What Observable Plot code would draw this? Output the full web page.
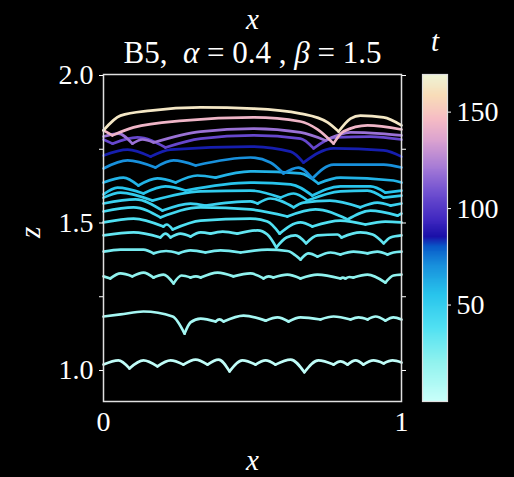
<!DOCTYPE html>
<html><head><meta charset="utf-8">
<script src="https://cdn.jsdelivr.net/npm/d3@7"></script>
<script src="https://cdn.jsdelivr.net/npm/@observablehq/plot@0.6"></script>
<style>
html,body{margin:0;padding:0;background:#000;}
#wrap{position:relative;width:514px;height:477px;background:#000;overflow:hidden;}
#wrap svg{position:absolute;top:0;}
</style></head><body><div id="wrap"></div>
<script>
// time of each interface (colour), bottom to top
const curveT = [3, 12, 20, 27, 33, 38, 43, 47, 51, 55, 60, 70, 84, 105, 118, 143, 163];
// interface points [x, z, cusp?]
const curveA = [[0,1.020],[.05,1.034],[.087,1.007,1],[.134,1.034],[.181,1.014,1],[.225,1.034],[.268,1.020,1],[.309,1.037],[.349,1.020,1],[.386,1.037],[.423,.997,1],[.466,1.034],[.51,1.020,1],[.544,1.034],[.577,1.020,1],[.628,1.037],[.674,.994,1],[.721,1.034],[.772,1.020,1],[.795,1.031],[.819,1.020,1],[.846,1.034],[.872,1.020,1],[.906,1.034],[.94,1.024,1],[.97,1.034],[1,1.027]];
const curveB = [[0,1.183],[.057,1.19],[.134,1.2],[.232,1.183],[.272,1.125,1],[.292,1.163],[.326,1.176],[.376,1.166,1],[.389,1.173],[.403,1.166,1],[.47,1.186],[.544,1.169,1],[.584,1.18],[.621,1.166,1],[.661,1.18],[.728,1.173,1],[.772,1.183],[.829,1.173,1],[.856,1.18],[.886,1.173,1],[.913,1.183],[.946,1.169,1],[.973,1.18],[1,1.173]];
const curveC = [[0,1.319],[.023,1.312,1],[.057,1.329],[.097,1.319,1],[.134,1.332],[.168,1.315,1],[.201,1.325],[.235,1.295,1],[.262,1.322],[.292,1.315,1],[.31,1.319],[.326,1.315,1],[.383,1.332],[.436,1.319,1],[.493,1.329],[.537,1.312,1],[.554,1.319],[.57,1.315,1],[.617,1.325],[.661,1.312,1],[.718,1.325],[.795,1.312,1],[.803,1.315],[.812,1.312,1],[.825,1.317],[.839,1.315,1],[.886,1.325],[.946,1.298,1],[.973,1.322],[1,1.325]];
const curveD = [[0,1.403],[.057,1.41],[.134,1.41],[.168,1.397,1],[.21,1.405],[.252,1.397,1],[.292,1.407],[.342,1.4,1],[.393,1.407],[.46,1.4,1],[.55,1.41],[.617,1.405],[.661,1.376,1],[.688,1.397],[.718,1.386,1],[.762,1.4],[.795,1.393,1],[.839,1.403],[.886,1.397,1],[.919,1.403],[.953,1.393,1],[.973,1.4],[1,1.403]];
const curveE = [[0,1.458],[.101,1.468],[.191,1.451,1],[.208,1.464],[.225,1.451,1],[.258,1.464],[.292,1.454,1],[.326,1.468],[.359,1.464,1],[.4,1.471],[.449,1.464,1],[.517,1.475],[.55,1.461],[.58,1.417,1],[.614,1.451],[.644,1.458],[.68,1.431,1],[.718,1.458],[.785,1.461],[.799,1.451,1],[.862,1.468],[.903,1.461],[.94,1.431,1],[.963,1.451],[1,1.458]];
const curveF = [[0,1.502],[.101,1.515],[.201,1.488,1],[.212,1.495],[.232,1.478,1],[.326,1.508],[.493,1.515],[.55,1.505],[.591,1.464,1],[.661,1.502],[.701,1.488,1],[.795,1.508],[.879,1.495,1],[.946,1.505],[1,1.502]];
const curveG = [[0,1.539],[.101,1.553],[.191,1.519,1],[.326,1.553],[.493,1.546],[.617,1.522,1],[.711,1.546],[.819,1.512,1],[.896,1.542],[.987,1.525,1],[1,1.532]];
const curveH = [[0,1.566],[.107,1.58],[.198,1.542,1],[.292,1.566],[.342,1.559,1],[.493,1.573],[.517,1.566,1],[.56,1.583],[.638,1.553,1],[.671,1.569],[.76,1.576],[.862,1.553,1],[.919,1.569],[.963,1.559,1],[1,1.566]];
const curveI = [[0,1.586],[.057,1.603],[.164,1.576,1],[.326,1.607],[.493,1.61],[.594,1.586,1],[.638,1.6],[.685,1.576,1],[.795,1.607],[.886,1.61],[.94,1.586,1],[1,1.593]];
const curveJ = [[0,1.597],[.047,1.62],[.134,1.6,1],[.208,1.624],[.275,1.61,1],[.493,1.637],[.628,1.631],[.701,1.593,1],[.795,1.624],[.896,1.624],[.946,1.603,1],[1,1.61]];
const curveK = [[0,1.637],[.067,1.654],[.117,1.627,1],[.181,1.651],[.242,1.637,1],[.315,1.661],[.376,1.654,1],[.493,1.675],[.661,1.668],[.721,1.634,1],[.795,1.654],[.973,1.644],[1,1.637]];
const curveL = [[0,1.685],[.081,1.712],[.174,1.688,1],[.235,1.712],[.309,1.695,1],[.493,1.722],[.56,1.705],[.604,1.668,1],[.654,1.688],[.701,1.651,1],[.772,1.698],[.94,1.698],[1,1.688]];
const curveM = [[0,1.729],[.081,1.749],[.158,1.725,1],[.225,1.749],[.493,1.759],[.628,1.742],[.671,1.705,1],[.772,1.753],[.94,1.746],[1,1.725]];
const curveN = [[0,1.783],[.03,1.769,1],[.114,1.79],[.208,1.756,1],[.326,1.786],[.503,1.797],[.661,1.786],[.705,1.753,1],[.779,1.79],[.896,1.793],[1,1.783]];
const curveO = [[0,1.793],[.05,1.803],[.097,1.769,1],[.131,1.783],[.168,1.773,1],[.326,1.81],[.503,1.82],[.661,1.807],[.745,1.78,1],[.829,1.807],[.93,1.803],[1,1.797]];
const curveP = [[0,1.814],[.03,1.797,1],[.101,1.824],[.268,1.847],[.503,1.858],[.661,1.844],[.718,1.817],[.772,1.769,1],[.805,1.81],[.886,1.831],[1,1.817]];
const curveQ = [[0,1.814],[.057,1.864],[.158,1.881],[.326,1.892],[.503,1.888],[.661,1.871],[.752,1.841],[.789,1.81,1],[.829,1.854],[.862,1.864],[.94,1.858],[1,1.831]];
const curves = [curveA, curveB, curveC, curveD, curveE, curveF, curveG, curveH, curveI, curveJ, curveK, curveL, curveM, curveN, curveO, curveP, curveQ];

// colour map stops (t -> colour)
const colorStopsT = [0, 20, 38, 55, 70, 80, 85, 94, 108, 120, 134, 146, 158, 170];
const colorStops = ["#c8fffa", "#90f2ee", "#50e0f2", "#28c4ec", "#1890dc", "#0858c8", "#1a10a8", "#4028c0", "#7050d0", "#a278d6", "#d8a0d0", "#f6bcc4", "#f8dcb8", "#eef6d8"];
const tDomain = [0, 169.5];

const zTicks = [1.0, 1.5, 2.0];
const zMinorTicks = [1.25, 1.75];
const xTicks = [0, 1];
const tTicks = [50, 100, 150];
const xLabel = "x";
const zLabel = "z";
const tLabel = "t";
const titleParts = [["B5,  ", false], ["α", true], [" = 0.4 , ", false], ["β", true], [" = 1.5", false]];

// split each interface into arcs at cusps
const rows = [];
curves.forEach((pts, ci) => {
  let arc = 0;
  pts.forEach((p, i) => {
    rows.push({x: p[0], z: p[1], t: curveT[ci], g: ci * 100 + arc});
    if (p[2] === 1 && i > 0 && i < pts.length - 1) {
      arc++;
      rows.push({x: p[0], z: p[1], t: curveT[ci], g: ci * 100 + arc});
    }
  });
});

const font = "'Liberation Serif', 'Times New Roman', serif";
const colorScale = {type: "linear", domain: colorStopsT, range: colorStops, interpolate: "rgb"};
const titleText = titleParts.map(d => d[0]).join("");

const main = Plot.plot({
  width: 420, height: 477,
  marginLeft: 103, marginRight: 19, marginTop: 74, marginBottom: 76,
  style: {background: "transparent", color: "white", fontFamily: font},
  x: {domain: [0, 1], axis: null},
  y: {domain: [0.8949, 2.0034], axis: null},
  color: colorScale,
  marks: [
    Plot.line(rows, {x: "x", y: "z", z: "g", stroke: "t", strokeWidth: 2.7, curve: "monotone-x"}),
    Plot.frame({stroke: "#e0e0e0", strokeWidth: 1.5}),
    Plot.axisY(zTicks, {tickSize: 4, tickPadding: 6, tickFormat: d3.format(".1f"), fontSize: 28, label: null}),
    Plot.axisY(zMinorTicks, {tickSize: 4, tickFormat: () => "", label: null}),
    Plot.axisY(zTicks.concat(zMinorTicks), {anchor: "right", tickSize: 4, tickFormat: () => "", label: null}),
    Plot.axisX(xTicks, {tickSize: 0, tickPadding: 10, fontSize: 28, tickFormat: d => String(d), label: null}),
    Plot.text([xLabel], {frameAnchor: "bottom", dy: 68, fontSize: 29, fontStyle: "italic", fill: "white"}),
    Plot.text([xLabel], {frameAnchor: "top", dy: -66, fontSize: 29, fontStyle: "italic", fill: "white"}),
    Plot.text([titleText], {frameAnchor: "top", dy: -34, fontSize: 31, fill: "white"}),
    Plot.text([zLabel], {frameAnchor: "left", dx: -73, rotate: -90, fontSize: 29, fontStyle: "italic", fill: "white"})
  ]
});
main.style.left = "0px";
// style title math parts
main.querySelectorAll("text").forEach(el => {
  if (el.textContent === titleText) {
    el.textContent = "";
    titleParts.forEach(([s, it]) => {
      const ts = document.createElementNS("http://www.w3.org/2000/svg", "tspan");
      ts.textContent = s;
      if (it) ts.setAttribute("font-style", "italic");
      el.appendChild(ts);
    });
    el.setAttribute("xml:space", "preserve");
    el.style.whiteSpace = "pre";
  }
});

const bar = Plot.plot({
  width: 94, height: 477,
  marginLeft: 2, marginRight: 67, marginTop: 74, marginBottom: 76,
  style: {background: "transparent", color: "white", fontFamily: font},
  x: {domain: [0, 1], axis: null},
  y: {domain: tDomain, axis: null},
  color: colorScale,
  marks: [
    Plot.rect(d3.range(tDomain[0], tDomain[1], 0.5), {x1: 0, x2: 1, y1: d => d, y2: d => Math.min(d + 1.5, tDomain[1]), fill: d => d, shapeRendering: "crispEdges"}),
    Plot.frame({stroke: "#e0e0e0", strokeWidth: 1.2}),
    Plot.axisY(tTicks, {anchor: "right", tickSize: 3, tickPadding: 6, fontSize: 28, label: null}),
    Plot.text([tLabel], {frameAnchor: "top", dy: -44, fontSize: 29, fontStyle: "italic", fill: "white"})
  ]
});
bar.style.left = "420px";

document.getElementById("wrap").append(main, bar);
</script></body></html>
